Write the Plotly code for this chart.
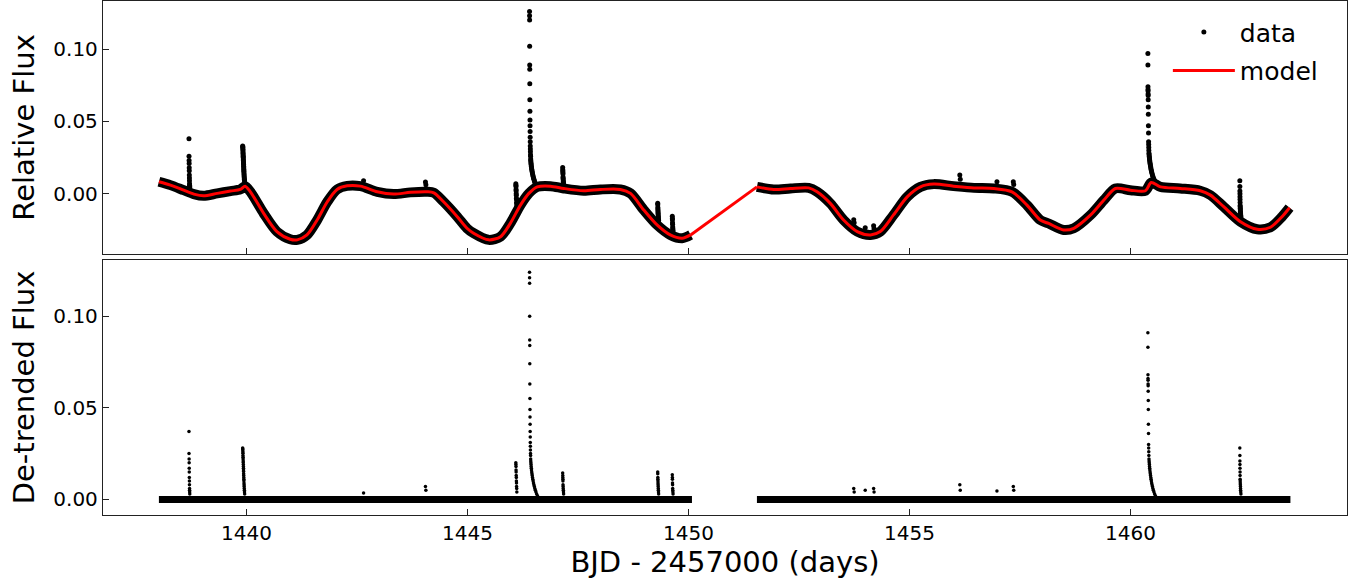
import plotly.graph_objects as go

# ---------------- data ----------------
# model (also the centre of the dense data band), BJD-2457000 and relative flux
model_time = [1438.02, 1438.28, 1438.58, 1438.81, 1439.03, 1439.34, 1439.64, 1439.86, 1439.97,
              1440.09, 1440.39, 1440.69, 1440.99, 1441.15, 1441.37, 1441.60, 1441.83, 1442.05,
              1442.28, 1442.58, 1442.96, 1443.33, 1443.71, 1444.09, 1444.24, 1444.46, 1444.77,
              1444.99, 1445.14, 1445.48, 1445.75, 1445.97, 1446.20, 1446.39, 1446.58, 1446.88,
              1447.18, 1447.63, 1448.01, 1448.46, 1448.69, 1448.99, 1449.29, 1449.59, 1449.86,
              1450.05,
              1451.55, 1451.93, 1452.31, 1452.72, 1452.91, 1453.21, 1453.51, 1453.82, 1454.12,
              1454.34, 1454.64, 1454.95, 1455.25, 1455.55, 1456.00, 1456.46, 1456.91, 1457.32,
              1457.66, 1457.96, 1458.15, 1458.49, 1458.72, 1459.10, 1459.40, 1459.66, 1460.00,
              1460.34, 1460.47, 1460.68, 1461.13, 1461.58, 1461.81, 1462.11, 1462.49, 1462.87,
              1463.17, 1463.43, 1463.60]
model_flux = [0.0083, 0.0060, 0.0025, -0.0002, -0.0014, 0.0003, 0.0019, 0.0030, 0.0053,
              0.0014, -0.0135, -0.0261, -0.0314, -0.0318, -0.0284, -0.0181, -0.0055, 0.0030,
              0.0055, 0.0053, 0.0014, -0.0002, 0.0010, 0.0014, 0.0007, -0.0055, -0.0158,
              -0.0238, -0.0272, -0.0318, -0.0296, -0.0204, -0.0078, 0.0003, 0.0048, 0.0053,
              0.0037, 0.0021, 0.0030, 0.0030, 0.0003, -0.0112, -0.0215, -0.0284, -0.0307,
              -0.0284,
              0.0048, 0.0030, 0.0037, 0.0041, 0.0014, -0.0066, -0.0181, -0.0261, -0.0284,
              -0.0261, -0.0146, -0.0021, 0.0048, 0.0067, 0.0053, 0.0041, 0.0037, 0.0014,
              -0.0078, -0.0181, -0.0205, -0.0250, -0.0238, -0.0146, -0.0043, 0.0037, 0.0025,
              0.0021, 0.0078, 0.0048, 0.0037, 0.0021, -0.0009, -0.0089, -0.0193, -0.0245,
              -0.0231, -0.0158, -0.0096]

# de-trended flux baseline (segments of the light curve, residual ~ 0)
resid_time = [1438.02, 1450.08, None, 1451.55, 1463.62]
resid_flux = [0.0, 0.0, None, 0.0, 0.0]

# flare points: times, de-trended flux and the local baseline of the relative flux
fl1_t = [1438.700, 1438.701, 1438.703, 1438.704, 1438.706, 1438.707, 1438.708, 1438.710,
         1438.711, 1438.713, 1438.714, 1438.716, 1438.718]
fl1_d = [0.037, 0.025, 0.022, 0.020, 0.017, 0.015, 0.012, 0.010, 0.008, 0.006, 0.005, 0.004, 0.003]
fl1_base = 0.001

fl2_t = [1439.915, 1439.917, 1439.918, 1439.920, 1439.921, 1439.922, 1439.924, 1439.925, 1439.927,
         1439.928, 1439.930, 1439.931, 1439.933, 1439.934, 1439.936, 1439.937, 1439.939, 1439.940,
         1439.942, 1439.943, 1439.945, 1439.947, 1439.949, 1439.951, 1439.954, 1439.957, 1439.960]
fl2_d = [0.028, 0.0275, 0.027, 0.026, 0.0252, 0.024, 0.023, 0.022, 0.021, 0.0202, 0.019, 0.018,
         0.017, 0.016, 0.0152, 0.014, 0.013, 0.012, 0.011, 0.0102, 0.009, 0.008, 0.007, 0.006,
         0.005, 0.004, 0.003]
fl2_base = 0.005

fl3_t = [1442.65, 1444.05, 1444.06]
fl3_d = [0.0035, 0.007, 0.005]
fl3_base = [0.0055, 0.0012, 0.0012]

fl4_t = [1446.095, 1446.097, 1446.099, 1446.100, 1446.102, 1446.104, 1446.106, 1446.108,
         1446.110, 1446.112, 1446.115, 1446.118]
fl4_d = [0.020, 0.019, 0.018, 0.016, 0.015, 0.013, 0.012, 0.010, 0.009, 0.007, 0.006, 0.004]
fl4_base = -0.013

fl5_t = [1446.405, 1446.406, 1446.407, 1446.408, 1446.409, 1446.410, 1446.411, 1446.412,
         1446.414, 1446.415, 1446.416, 1446.418, 1446.419, 1446.421, 1446.422, 1446.424,
         1446.425, 1446.427, 1446.429, 1446.431, 1446.433, 1446.436, 1446.439, 1446.442,
         1446.446, 1446.450, 1446.455, 1446.460, 1446.466, 1446.472, 1446.479, 1446.487,
         1446.495, 1446.504, 1446.514, 1446.525, 1446.537, 1446.550, 1446.565, 1446.585]
fl5_d = [0.124, 0.121, 0.118, 0.100, 0.087, 0.084, 0.074, 0.063, 0.055, 0.049, 0.045, 0.041,
         0.037, 0.034, 0.031, 0.029, 0.027, 0.025, 0.024, 0.022, 0.021, 0.020, 0.019, 0.018,
         0.017, 0.016, 0.015, 0.014, 0.013, 0.012, 0.011, 0.010, 0.009, 0.008, 0.007, 0.006,
         0.005, 0.004, 0.003, 0.002]
fl5_base = 0.002

fl6_t = [1447.155, 1447.157, 1447.158, 1447.160, 1447.161, 1447.163, 1447.165, 1447.167,
         1447.170, 1447.173, 1447.176]
fl6_d = [0.0144, 0.013, 0.012, 0.011, 0.010, 0.008, 0.007, 0.006, 0.005, 0.004, 0.003]
fl6_base = 0.0037

fl7_t = [1449.305, 1449.306, 1449.308, 1449.309, 1449.311, 1449.312, 1449.314, 1449.316,
         1449.318, 1449.320, 1449.323, 1449.326]
fl7_d = [0.015, 0.014, 0.012, 0.011, 0.010, 0.009, 0.008, 0.007, 0.006, 0.005, 0.004, 0.003]
fl7_base = -0.0215

fl8_t = [1449.635, 1449.637, 1449.638, 1449.640, 1449.642, 1449.644, 1449.646, 1449.649, 1449.652]
fl8_d = [0.0135, 0.012, 0.011, 0.009, 0.008, 0.006, 0.005, 0.004, 0.003]
fl8_base = -0.029

fl9_t = [1453.74, 1453.75, 1454.00, 1454.19, 1454.20, 1456.14, 1456.15, 1456.98, 1457.35, 1457.36]
fl9_d = [0.006, 0.004, 0.005, 0.006, 0.004, 0.008, 0.005, 0.0046, 0.007, 0.005]
fl9_base = [-0.024, -0.024, -0.0285, -0.028, -0.028, 0.005, 0.005, 0.0037, 0.0014, 0.0014]

fl10_t = [1460.395, 1460.396, 1460.397, 1460.398, 1460.399, 1460.400, 1460.401, 1460.402,
          1460.404, 1460.405, 1460.407, 1460.409, 1460.411, 1460.413, 1460.415, 1460.417,
          1460.420, 1460.423, 1460.426, 1460.429, 1460.432, 1460.436, 1460.440, 1460.445,
          1460.450, 1460.455, 1460.461, 1460.467, 1460.474, 1460.481, 1460.489, 1460.498,
          1460.508, 1460.519, 1460.532, 1460.547, 1460.565]
fl10_d = [0.091, 0.083, 0.068, 0.066, 0.065, 0.063, 0.062, 0.059, 0.054, 0.049, 0.041, 0.036,
          0.030, 0.028, 0.026, 0.024, 0.022, 0.021, 0.020, 0.019, 0.018, 0.017, 0.016, 0.015,
          0.014, 0.013, 0.012, 0.011, 0.010, 0.009, 0.008, 0.007, 0.006, 0.005, 0.004, 0.003,
          0.002]
fl10_base = 0.006

fl11_t = [1462.475, 1462.476, 1462.477, 1462.478, 1462.479, 1462.480, 1462.481, 1462.482,
          1462.484, 1462.485, 1462.487, 1462.489, 1462.491, 1462.493, 1462.496, 1462.500]
fl11_d = [0.028, 0.024, 0.021, 0.019, 0.017, 0.015, 0.013, 0.011, 0.010, 0.009, 0.008, 0.007,
          0.006, 0.005, 0.004, 0.003]
fl11_base = -0.019

x_ticks = [1440, 1445, 1450, 1455, 1460]
y_ticks = [0.00, 0.05, 0.10]

# ---------------- assemble ----------------
groups = [(fl1_t, fl1_d, fl1_base), (fl2_t, fl2_d, fl2_base), (fl3_t, fl3_d, fl3_base),
          (fl4_t, fl4_d, fl4_base), (fl5_t, fl5_d, fl5_base), (fl6_t, fl6_d, fl6_base),
          (fl7_t, fl7_d, fl7_base), (fl8_t, fl8_d, fl8_base), (fl9_t, fl9_d, fl9_base),
          (fl10_t, fl10_d, fl10_base), (fl11_t, fl11_d, fl11_base)]
flare_t, flare_d, flare_rel = [], [], []
for ts, ds, base in groups:
    for i, (t, d) in enumerate(zip(ts, ds)):
        b = base[i] if isinstance(base, list) else base
        flare_t.append(t)
        flare_d.append(d)
        flare_rel.append(d + b)

# split the light curve at the observation gap
gap = [i for i in range(1, len(model_time)) if model_time[i] - model_time[i - 1] > 1.0][0]
seg1_t, seg1_f = model_time[:gap], model_flux[:gap]
seg2_t, seg2_f = model_time[gap:], model_flux[gap:]
band_t = seg1_t + [None] + seg2_t
band_f = seg1_f + [None] + seg2_f

FONT = "DejaVu Sans"
AX = "#222222"
RED = "#ff0000"

fig = go.Figure()
fig.add_trace(go.Scatter(x=band_t, y=band_f, mode="lines", xaxis="x2", yaxis="y2",
                         line=dict(color="black", width=10, shape="spline", smoothing=0.8),
                         showlegend=False, hoverinfo="skip"))
fig.add_trace(go.Scatter(x=flare_t, y=flare_rel, mode="markers", xaxis="x2", yaxis="y2",
                         marker=dict(color="black", size=5), name="data",
                         legendgroup="a"))
fig.add_trace(go.Scatter(x=seg1_t, y=seg1_f, mode="lines", xaxis="x2", yaxis="y2",
                         line=dict(color=RED, width=3, shape="spline", smoothing=0.8),
                         name="model", legendgroup="b"))
fig.add_trace(go.Scatter(x=[seg1_t[-1], seg2_t[0]], y=[seg1_f[-1], seg2_f[0]], mode="lines",
                         xaxis="x2", yaxis="y2", line=dict(color=RED, width=3),
                         showlegend=False, legendgroup="b"))
fig.add_trace(go.Scatter(x=seg2_t, y=seg2_f, mode="lines", xaxis="x2", yaxis="y2",
                         line=dict(color=RED, width=3, shape="spline", smoothing=0.8),
                         showlegend=False, legendgroup="b"))
fig.add_trace(go.Scatter(x=resid_time, y=resid_flux, mode="lines", xaxis="x", yaxis="y",
                         line=dict(color="black", width=7), showlegend=False, hoverinfo="skip"))
fig.add_trace(go.Scatter(x=flare_t, y=flare_d, mode="markers", xaxis="x", yaxis="y",
                         marker=dict(color="black", size=3.5), showlegend=False))

axis_common = dict(showline=True, linecolor=AX, linewidth=1.3, mirror=True,
                   ticks="inside", ticklen=6, tickwidth=1.3, tickcolor=AX,
                   showgrid=False, zeroline=False,
                   tickfont=dict(family=FONT, size=20, color="black"))
xr = [1436.755, 1464.9]

fig.update_layout(
    width=1364, height=584,
    margin=dict(l=103, r=17, t=1, b=69),
    paper_bgcolor="white", plot_bgcolor="white",
    font=dict(family=FONT, color="black"),
    xaxis=dict(domain=[0, 1], range=xr, anchor="y", tickvals=x_ticks,
               title=dict(text="BJD - 2457000 (days)", font=dict(family=FONT, size=29), standoff=6),
               **axis_common),
    yaxis=dict(domain=[0, 0.496], range=[-0.0085, 0.1306], anchor="x", tickvals=y_ticks,
               tickformat=".2f",
               title=dict(text="De-trended Flux", font=dict(family=FONT, size=29), standoff=10),
               **axis_common),
    xaxis2=dict(domain=[0, 1], range=xr, anchor="y2", tickvals=x_ticks, showticklabels=False,
                matches="x", **axis_common),
    yaxis2=dict(domain=[0.508, 1], range=[-0.0415, 0.1332], anchor="x2", tickvals=y_ticks,
                tickformat=".2f",
                title=dict(text="Relative Flux", font=dict(family=FONT, size=29), standoff=10),
                **axis_common),
    legend=dict(x=0.856, y=0.984, xanchor="left", yanchor="top", bgcolor="rgba(0,0,0,0)",
                font=dict(family=FONT, size=25, color="black"), traceorder="grouped",
                tracegroupgap=3, itemwidth=62),
    showlegend=True,
)

fig.write_html("out.html", config={"displayModeBar": False},
               post_script="document.body.style.margin='0px';")
